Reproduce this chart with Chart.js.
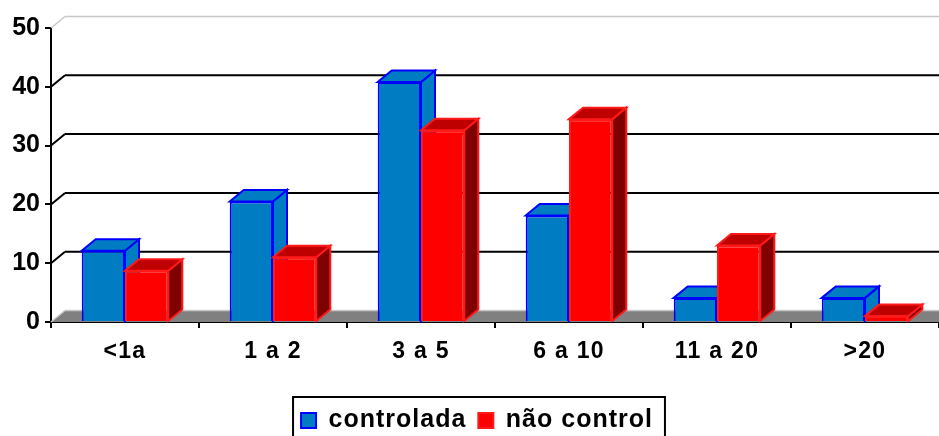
<!DOCTYPE html>
<html><head><meta charset="utf-8">
<style>html,body{margin:0;padding:0;background:#fff;overflow:hidden}#w{width:939px;height:436px}</style>
<script src="https://cdn.jsdelivr.net/npm/chart.js@4"></script></head>
<body><div id="w"><canvas id="c" width="939" height="436"></canvas></div>
<script>
const categories = ['<1a','1 a 2','3 a 5','6 a 10','11 a 20','>20'];
const controlada = [12.1,20.5,40.8,18.1,4.1,4.1];
const naoControl = [8.7,11,32.6,34.5,13,1];
const seriesNames = ['controlada','não control'];
const yTicks = [0,10,20,30,40,50];
const DX = 14, DY = 11.5;
const FONT = '"Liberation Sans", Arial, sans-serif';
const LEGEND_SPACING = '1px';
const LEGEND_SHIFT = 7.5;

class SpacedCategory extends Chart.CategoryScale {
  drawLabels(a){ const c=this.ctx; const o=c.letterSpacing; c.letterSpacing='1.3px'; super.drawLabels(a); c.letterSpacing=o; }
}
SpacedCategory.id='spacedCategory'; SpacedCategory.defaults=Chart.CategoryScale.defaults;
class PlainLinear extends Chart.LinearScale {
  drawLabels(a){ const c=this.ctx; const o=c.letterSpacing; c.letterSpacing='0px'; super.drawLabels(a); c.letterSpacing=o; }
}
PlainLinear.id='plainLinear'; PlainLinear.defaults=Chart.LinearScale.defaults;
Chart.register(SpacedCategory,PlainLinear);

const wall = {
  id:'wall',
  beforeLayout(ch){ ch.ctx.letterSpacing=LEGEND_SPACING; },
  afterLayout(ch){ ch.legend.left+=LEGEND_SHIFT; ch.legend.right+=LEGEND_SHIFT; },
  beforeDraw(ch){ ch.ctx.letterSpacing=LEGEND_SPACING; },
  beforeDatasetsDraw(ch){
    const {ctx,chartArea:a,scales:{y}}=ch;
    const y0=y.getPixelForValue(0);
    ctx.save();
    ctx.fillStyle='#808080';
    ctx.beginPath();ctx.moveTo(a.left,y0);ctx.lineTo(a.left+DX,y0-DY);ctx.lineTo(a.right,y0-DY);ctx.lineTo(a.right,y0);ctx.closePath();ctx.fill();
    yTicks.forEach(v=>{
      const p=y.getPixelForValue(v);
      const light=(v===0||v===50);
      ctx.strokeStyle=light?'#c8c8c8':'#000';
      ctx.lineWidth=light?1.5:2;
      ctx.beginPath();ctx.moveTo(a.left,p);ctx.lineTo(a.left+DX,p-DY);
      ctx.moveTo(a.left+DX,p-DY);ctx.lineTo(a.right,p-DY);ctx.stroke();
    });
    ctx.restore();
  },
  // Cancel the library's back-to-front pass: blue has to be painted before red.
  beforeDatasetDraw(){ return false; },
  afterDatasetsDraw(ch){
    const {ctx}=ch;
    ch.data.datasets.forEach((ds,i)=>{
      const meta=ch.getDatasetMeta(i);
      ctx.save();
      ctx.lineWidth=2;ctx.strokeStyle=ds.borderColor;ctx.lineJoin='miter';
      meta.data.forEach(b=>{
        const l=b.x-b.width/2,r=b.x+b.width/2,t=b.y,bt=b.base;
        ctx.fillStyle=ds.sideColor;
        ctx.beginPath();ctx.moveTo(r,t);ctx.lineTo(r+DX,t-DY);ctx.lineTo(r+DX,bt-DY);ctx.lineTo(r,bt);ctx.closePath();ctx.fill();ctx.stroke();
        ctx.fillStyle=ds.topColor;
        ctx.beginPath();ctx.moveTo(l,t);ctx.lineTo(l+DX,t-DY);ctx.lineTo(r+DX,t-DY);ctx.lineTo(r,t);ctx.closePath();ctx.fill();ctx.stroke();
      });
      ctx.restore();
      meta.controller.draw();
    });
  },
  afterDraw(ch){
    const {ctx,legend:l}=ch;
    const hb=l.legendHitBoxes, last=hb[hb.length-1], left=hb[0].left-8, right=last.left+last.width+12;
    ctx.save();ctx.strokeStyle='#000';ctx.lineWidth=2;
    ctx.strokeRect(left,l.top+1,right-left,l.height);
    ctx.restore();
  }
};

new Chart(document.getElementById('c').getContext('2d'),{
  type:'bar',
  data:{labels:categories,datasets:[
    {label:seriesNames[0],data:controlada,backgroundColor:'#007cc3',borderColor:'#0000ff',borderWidth:2,sideColor:'#007cc3',topColor:'#007cc3',borderSkipped:'bottom'},
    {label:seriesNames[1],data:naoControl,backgroundColor:'#ff0000',borderColor:'#ff1a1a',borderWidth:2,sideColor:'#7f0000',topColor:'#bf0000',borderSkipped:'bottom'}
  ]},
  plugins:[wall],
  options:{
    responsive:false,animation:false,
    layout:{padding:{top:28,left:0,right:0,bottom:-7}},
    plugins:{
      tooltip:{enabled:false},
      legend:{position:'bottom',align:'center',
        labels:{color:'#000',font:{family:FONT,size:25,weight:'bold'},boxWidth:15,boxHeight:15,padding:12}}
    },
    scales:{
      x:{type:'spacedCategory',offset:true,
        afterFit(s){s.height=74;},
        grid:{offset:true,drawOnChartArea:false,drawTicks:true,tickLength:6,color:'#000',lineWidth:2},
        border:{display:true,color:'#000',width:2},
        ticks:{color:'#000',padding:10,maxRotation:0,font:{family:FONT,size:23,weight:'bold'}}},
      y:{type:'plainLinear',min:0,max:50,
        afterFit(s){s.width=51;},
        afterBuildTicks(s){s.ticks=yTicks.map(v=>({value:v}));},
        grid:{drawOnChartArea:false,drawTicks:true,tickLength:6,color:'#000',lineWidth:2},
        border:{display:true,color:'#000',width:2},
        ticks:{color:'#000',padding:5,font:{family:FONT,size:25,weight:'bold'}}}
    },
    datasets:{bar:{categoryPercentage:0.585,barPercentage:1}}
  }
});
</script></body></html>
